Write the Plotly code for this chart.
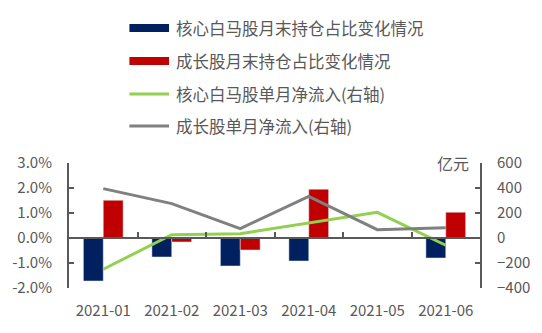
import plotly.graph_objects as go

# Monthly data
months = ["2021-01", "2021-02", "2021-03", "2021-04", "2021-05", "2021-06"]
core_share_chg = [-1.72, -0.76, -1.12, -0.92, 0.0, -0.80]     # % change, left axis
growth_share_chg = [1.51, -0.16, -0.48, 1.95, 0.0, 1.03]      # % change, left axis
core_inflow = [-250, 27, 35, 123, 205, -58]                   # 亿元, right axis
growth_inflow = [395, 275, 75, 333, 67, 83]                   # 亿元, right axis

left_ticks = [-2, -1, 0, 1, 2, 3]
right_ticks = [-400, -200, 0, 200, 400, 600]

series_names = [
    "核心白马股月末持仓占比变化情况",
    "成长股月末持仓占比变化情况",
    "核心白马股单月净流入(右轴)",
    "成长股单月净流入(右轴)",
]
NAVY, RED, GREEN, GRAY = "#002060", "#C00000", "#92D050", "#808080"
AXIS = "#595959"
TXT = "#595959"
FONT = "Noto Sans CJK SC, sans-serif"

W, H = 542, 333
L, R, T, B = 67, 60, 163, 45
PW, PH = W - L - R, H - T - B

fig = go.Figure()
fig.add_bar(x=months, y=core_share_chg, name=series_names[0], marker_color=NAVY, yaxis="y")
fig.add_bar(x=months, y=growth_share_chg, name=series_names[1], marker_color=RED, yaxis="y")
fig.add_scatter(x=months, y=core_inflow, name=series_names[2], mode="lines",
                line=dict(color=GREEN, width=3), yaxis="y2")
fig.add_scatter(x=months, y=growth_inflow, name=series_names[3], mode="lines",
                line=dict(color=GRAY, width=3), yaxis="y2")

zero_frac = (0 - left_ticks[0]) / (left_ticks[-1] - left_ticks[0])

fig.update_layout(
    width=W, height=H,
    margin=dict(l=L, r=R, t=T, b=B, pad=0),
    paper_bgcolor="white", plot_bgcolor="white",
    barmode="group", bargap=0.42, bargroupgap=0,
    showlegend=False,
    font=dict(family=FONT, size=15, color=TXT),
    xaxis=dict(type="category", showline=False, ticks="", showgrid=False,
               tickfont=dict(size=15, color=TXT), ticklabelstandoff=12),
    xaxis2=dict(type="category", overlaying="x", anchor="free", position=zero_frac,
                showline=True, linecolor=AXIS, linewidth=2,
                ticks="inside", tickson="boundaries", ticklen=5, tickwidth=2, tickcolor=AXIS,
                showticklabels=False, showgrid=False, matches="x"),
    yaxis=dict(range=[left_ticks[0], left_ticks[-1]], tickvals=left_ticks,
               ticktext=[f"{v:.1f}%" for v in left_ticks],
               showline=True, linecolor=AXIS, linewidth=2,
               ticks="inside", ticklen=5, tickwidth=2, tickcolor=AXIS,
               showgrid=False, zeroline=False, ticklabelstandoff=12,
               tickfont=dict(size=15, color=TXT)),
    yaxis2=dict(range=[right_ticks[0], right_ticks[-1]], tickvals=right_ticks,
                overlaying="y", side="right",
                showline=True, linecolor=AXIS, linewidth=2,
                ticks="inside", ticklen=5, tickwidth=2, tickcolor=AXIS,
                showgrid=False, zeroline=False, ticklabelstandoff=12,
                tickfont=dict(size=15, color=TXT)),
)

# dummy trace to draw the zero-line category axis
fig.add_scatter(x=months, y=[None] * len(months), xaxis="x2", yaxis="y",
                showlegend=False, hoverinfo="skip")

# unit label on the right axis
fig.add_annotation(text="亿元", xref="paper", yref="paper", x=1, y=1,
                   xanchor="right", yanchor="middle", xshift=-9, showarrow=False,
                   font=dict(size=16, color=TXT))


def px_x(p):
    return (p - L) / PW


def px_y(p):
    return (H - B - p) / PH


# legend drawn as shapes + labels
rows = [28, 61, 94, 126]
styles = [("rect", NAVY), ("rect", RED), ("line", GREEN), ("line", GRAY)]
for name, yc, (kind, col) in zip(series_names, rows, styles):
    if kind == "rect":
        fig.add_shape(type="rect", xref="paper", yref="paper",
                      x0=px_x(128), x1=px_x(168), y0=px_y(yc - 4), y1=px_y(yc + 4),
                      fillcolor=col, line=dict(width=0))
    else:
        fig.add_shape(type="line", xref="paper", yref="paper",
                      x0=px_x(128), x1=px_x(168), y0=px_y(yc), y1=px_y(yc),
                      line=dict(color=col, width=3))
    fig.add_annotation(text=name, xref="paper", yref="paper", x=px_x(173), y=px_y(yc),
                       xanchor="left", yanchor="middle", showarrow=False,
                       font=dict(size=16.5, color=TXT))

fig.write_html("out.html")
